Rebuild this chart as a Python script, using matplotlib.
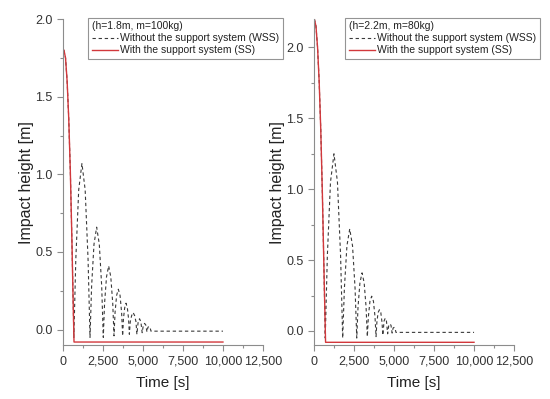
import matplotlib
matplotlib.use('Agg')
import matplotlib.pyplot as plt
from matplotlib.ticker import MultipleLocator, FuncFormatter

plt.rcParams['font.family'] = ['Liberation Sans', 'DejaVu Sans']

# left panel: h=1.8m, m=100kg  (time, height)
wss_t_left = [60, 160, 260, 360, 460, 560, 620, 680,
              801, 983, 1185, 1387, 1569, 1690,
              1790, 1939, 2105, 2271, 2420, 2520,
              2600, 2721, 2855, 2989, 3110, 3190,
              3255, 3352, 3460, 3568, 3665, 3730,
              3780, 3856, 3940, 4024, 4100, 4150,
              4206, 4291, 4385, 4479, 4564, 4620,
              4700, 4785, 4870, 4950,
              5025, 5100, 5175, 5250,
              5310, 5375, 5440, 5500, 10000]
wss_h_left = [1.80, 1.75, 1.60, 1.36, 1.02, 0.57, 0.26, -0.05,
              0.45, 0.90, 1.07, 0.90, 0.45, -0.05,
              0.28, 0.55, 0.66, 0.55, 0.28, -0.05,
              0.17, 0.34, 0.41, 0.34, 0.17, -0.04,
              0.11, 0.22, 0.26, 0.22, 0.11, -0.04,
              0.07, 0.14, 0.17, 0.14, 0.07, -0.03,
              0.05, 0.09, 0.11, 0.09, 0.05, -0.03,
              0.05, 0.07, 0.05, -0.02,
              0.03, 0.04, 0.03, -0.015,
              0.015, 0.02, 0.015, -0.01, -0.01]
ss_t_left = [60, 160, 260, 360, 460, 560, 620, 690, 10000]
ss_h_left = [1.80, 1.75, 1.60, 1.36, 1.02, 0.57, 0.26, -0.08, -0.08]

# right panel: h=2.2m, m=80kg
wss_t_right = [20, 120, 220, 320, 420, 520, 620, 700,
               831, 1027, 1245, 1463, 1659, 1790,
               1896, 2054, 2230, 2406, 2564, 2670,
               2749, 2868, 3000, 3132, 3251, 3330,
               3395, 3494, 3603, 3712, 3810, 3875,
               3926, 4003, 4088, 4173, 4249, 4300,
               4375, 4450, 4525, 4600,
               4670, 4740, 4810, 4880,
               4940, 5000, 5060, 5120, 10000]
wss_h_right = [2.20, 2.15, 2.00, 1.76, 1.42, 0.97, 0.43, -0.05,
               0.53, 1.05, 1.25, 1.05, 0.53, -0.05,
               0.30, 0.60, 0.72, 0.60, 0.30, -0.05,
               0.17, 0.34, 0.41, 0.34, 0.17, -0.04,
               0.10, 0.21, 0.245, 0.21, 0.10, -0.04,
               0.06, 0.13, 0.15, 0.13, 0.06, -0.03,
               0.07, 0.09, 0.07, -0.02,
               0.04, 0.05, 0.04, -0.015,
               0.02, 0.025, 0.02, -0.01, -0.01]
ss_t_right = [20, 120, 220, 320, 420, 520, 620, 720, 10000]
ss_h_right = [2.20, 2.15, 2.00, 1.76, 1.42, 0.97, 0.43, -0.08, -0.08]

legend_titles = ['(h=1.8m, m=100kg)', '(h=2.2m, m=80kg)']
y_tops = [2.0, 2.2]

RED = '#d2383c'
GRAY = '#8c8c8c'

fig = plt.figure(figsize=(5.5, 3.99), dpi=100)
ax_l = fig.add_axes([0.1145, 0.135, 0.3636, 0.817])
ax_r = fig.add_axes([0.571, 0.135, 0.3636, 0.817])

panels = [(ax_l, wss_t_left, wss_h_left, ss_t_left, ss_h_left, 0.125),
          (ax_r, wss_t_right, wss_h_right, ss_t_right, ss_h_right, 0.155)]

for i, (ax, wt, wh, st, sh, lx) in enumerate(panels):
    ax.plot(wt, wh, color='#3a3a3a', lw=0.8, ls=(0, (3, 2.5)),
            label='Without the support system (WSS)')
    ax.plot(st, sh, color=RED, lw=1.0, label='With the support system (SS)')

    ax.set_xlim(0, 12500)
    ax.set_ylim(-0.1, y_tops[i])
    ax.xaxis.set_major_locator(MultipleLocator(2500))
    ax.xaxis.set_minor_locator(MultipleLocator(1250))
    ax.yaxis.set_major_locator(MultipleLocator(0.5))
    ax.yaxis.set_minor_locator(MultipleLocator(0.25))
    ax.xaxis.set_major_formatter(FuncFormatter(lambda v, p: f'{int(v):,}'))
    ax.yaxis.set_major_formatter(FuncFormatter(lambda v, p: f'{v:.1f}'))

    for s in ['top', 'right']:
        ax.spines[s].set_visible(False)
    for s in ['left', 'bottom']:
        ax.spines[s].set_color(GRAY)
        ax.spines[s].set_linewidth(0.8)
    ax.tick_params(which='both', direction='out', color=GRAY, width=0.8,
                   labelsize=9, labelcolor='#333333')
    ax.tick_params(which='major', length=4)
    ax.tick_params(which='minor', length=2.5)

    ax.set_xlabel('Time [s]', fontsize=11, color='#222222', labelpad=6)
    ax.set_ylabel('Impact height [m]', fontsize=11.5, color='#222222', labelpad=1)

    leg = ax.legend(loc='upper left', bbox_to_anchor=(lx, 1.005), borderaxespad=0,
                    title=legend_titles[i], title_fontsize=7.5, fontsize=7.5,
                    alignment='left', fancybox=False, frameon=True,
                    handlelength=2.5, handletextpad=0.2, borderpad=0.35,
                    labelspacing=0.2)
    leg.get_frame().set_edgecolor('#7a7a7a')
    leg.get_frame().set_linewidth(0.8)
    leg.get_title().set_color('#222222')
    for t in leg.get_texts():
        t.set_color('#222222')
    leg.set_clip_on(False)

fig.savefig('out.png', dpi=100)
